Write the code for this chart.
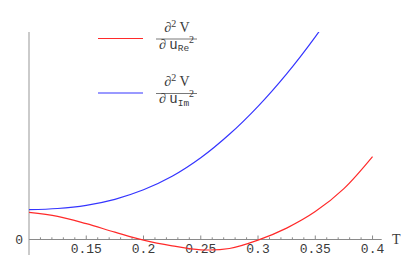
<!DOCTYPE html>
<html>
<head>
<meta charset="utf-8">
<script src="https://cdn.jsdelivr.net/npm/d3@7"></script>
<style>
  body { margin: 0; background: #fff; }
  svg { display: block; }
</style>
</head>
<body>
<div id="chart"></div>
<script>
// T values sampled along the curves
var temps = [0.1, 0.125, 0.15, 0.175, 0.2, 0.225, 0.25, 0.275, 0.3, 0.325, 0.35, 0.375, 0.4];
// d2V/du_Re^2 (red)
var reValues = [0.272, 0.232, 0.158, 0.074, -0.006, -0.063, -0.103, -0.09, -0.006, 0.114, 0.279, 0.509, 0.829];
// d2V/du_Im^2 (blue), runs off the top of the plot
var imValues = [0.298, 0.31, 0.342, 0.402, 0.497, 0.632, 0.817, 1.052, 1.332, 1.657, 2.027, 2.442, 2.90];
var xTicks = [0.15, 0.2, 0.25, 0.3, 0.35, 0.4];
var xTickLabels = ["0.15", "0.2", "0.25", "0.3", "0.35", "0.4"];
var yTicks = [0];
var yTickLabels = ["0"];

(function () {
  var width = 415,
    height = 274;

  var x = d3
    .scaleLinear()
    .domain([0.1, 0.408])
    .range([29, 381.7]);

  var y = d3
    .scaleLinear()
    .domain([-0.155, 2.075])
    .range([255, 32]);

  var svg = d3
    .select("#chart")
    .append("svg")
    .attr("width", width)
    .attr("height", height);

  svg
    .append("clipPath")
    .attr("id", "plotclip")
    .append("rect")
    .attr("x", x(0.1))
    .attr("y", y(2.075))
    .attr("width", x(0.408) - x(0.1))
    .attr("height", y(-0.155) - y(2.075));

  var axisColor = "#8a8a8a";

  // y axis
  svg
    .append("line")
    .attr("x1", x(0.1))
    .attr("x2", x(0.1))
    .attr("y1", y(2.075))
    .attr("y2", y(-0.155))
    .attr("stroke", "#a8a8a8")
    .attr("stroke-width", 1.2);

  // x axis along y = 0
  svg
    .append("line")
    .attr("x1", x(0.1))
    .attr("x2", x(0.408))
    .attr("y1", y(0))
    .attr("y2", y(0))
    .attr("stroke", axisColor)
    .attr("stroke-width", 1);

  // minor ticks every 0.01
  var minor = d3.range(11, 41).map(function (i) { return i / 100; });
  svg
    .append("g")
    .selectAll("line")
    .data(minor)
    .enter()
    .append("line")
    .attr("x1", function (d) { return x(d); })
    .attr("x2", function (d) { return x(d); })
    .attr("y1", y(0))
    .attr("y2", function (d) {
      var isMajor = xTicks.some(function (t) { return Math.abs(t - d) < 1e-9; });
      return y(0) - (isMajor ? 4 : 2.2);
    })
    .attr("stroke", axisColor)
    .attr("stroke-width", 1);

  svg
    .append("g")
    .selectAll("text")
    .data(xTicks)
    .enter()
    .append("text")
    .attr("x", function (d) { return x(d); })
    .attr("y", y(0) + 13.5)
    .attr("text-anchor", "middle")
    .attr("font-family", "Liberation Mono, DejaVu Sans Mono, monospace")
    .attr("font-size", 13)
    .attr("fill", "#3a3a3a")
    .text(function (d, i) { return xTickLabels[i]; });

  // y tick (only zero)
  svg
    .append("g")
    .selectAll("line")
    .data(yTicks)
    .enter()
    .append("line")
    .attr("x1", x(0.1))
    .attr("x2", x(0.1) + 4)
    .attr("y1", function (d) { return y(d); })
    .attr("y2", function (d) { return y(d); })
    .attr("stroke", axisColor);

  svg
    .append("g")
    .selectAll("text")
    .data(yTicks)
    .enter()
    .append("text")
    .attr("x", x(0.1) - 6)
    .attr("y", function (d) { return y(d) + 4.5; })
    .attr("text-anchor", "end")
    .attr("font-family", "Liberation Mono, DejaVu Sans Mono, monospace")
    .attr("font-size", 13)
    .attr("fill", "#3a3a3a")
    .text(function (d, i) { return yTickLabels[i]; });

  svg
    .append("text")
    .attr("x", 392)
    .attr("y", y(0) + 4.5)
    .attr("font-family", "Liberation Serif, Times New Roman, serif")
    .attr("font-size", 14)
    .attr("fill", "#3a3a3a")
    .text("T");

  // curves
  var line = d3
    .line()
    .x(function (d) { return x(d[0]); })
    .y(function (d) { return y(d[1]); })
    .curve(d3.curveCatmullRom);

  var series = [
    { values: reValues, color: "#ff2a2a" },
    { values: imValues, color: "#3535ff" }
  ];

  svg
    .append("g")
    .attr("clip-path", "url(#plotclip)")
    .selectAll("path")
    .data(series)
    .enter()
    .append("path")
    .attr("d", function (s) {
      return line(temps.map(function (t, i) { return [t, s.values[i]]; }));
    })
    .attr("fill", "none")
    .attr("stroke", function (s) { return s.color; })
    .attr("stroke-width", 1.2);

  // legend
  var legend = [
    { sub: "Re", color: "#ff2a2a", top: 38.5 },
    { sub: "Im", color: "#3535ff", top: 93 }
  ];

  var item = svg
    .append("g")
    .selectAll("g")
    .data(legend)
    .enter()
    .append("g")
    .attr("transform", function (d) { return "translate(0," + d.top + ")"; });

  item
    .append("line")
    .attr("x1", 98)
    .attr("x2", 143)
    .attr("y1", 0)
    .attr("y2", 0)
    .attr("stroke", function (d) { return d.color; })
    .attr("stroke-width", 1.2);

  item
    .append("line")
    .attr("x1", 156)
    .attr("x2", 197)
    .attr("y1", 0.5)
    .attr("y2", 0.5)
    .attr("stroke", "#555")
    .attr("stroke-width", 0.8);

  var num = item
    .append("text")
    .attr("x", 177)
    .attr("y", -7)
    .attr("text-anchor", "middle")
    .attr("font-family", "Liberation Serif, Times New Roman, serif")
    .attr("font-size", 14)
    .attr("fill", "#3a3a3a");
  num.append("tspan").text("\u2202");
  num.append("tspan").attr("font-size", 10).attr("dy", -5).text("2");
  num.append("tspan").attr("dy", 5).text(" V");

  var den = item
    .append("text")
    .attr("x", 176.5)
    .attr("y", 10)
    .attr("text-anchor", "middle")
    .attr("font-family", "Liberation Serif, Times New Roman, serif")
    .attr("font-size", 14)
    .attr("fill", "#3a3a3a");
  den.append("tspan").text("\u2202 ");
  den
    .append("tspan")
    .attr("font-family", "Liberation Mono, DejaVu Sans Mono, monospace")
    .text("u");
  den
    .append("tspan")
    .attr("font-family", "Liberation Mono, DejaVu Sans Mono, monospace")
    .attr("font-size", 9.5)
    .attr("dy", 2.5)
    .text(function (d) { return d.sub; });
  den
    .append("tspan")
    .attr("font-size", 10)
    .attr("dy", -8.5)
    .text("2");
})();
</script>
</body>
</html>
